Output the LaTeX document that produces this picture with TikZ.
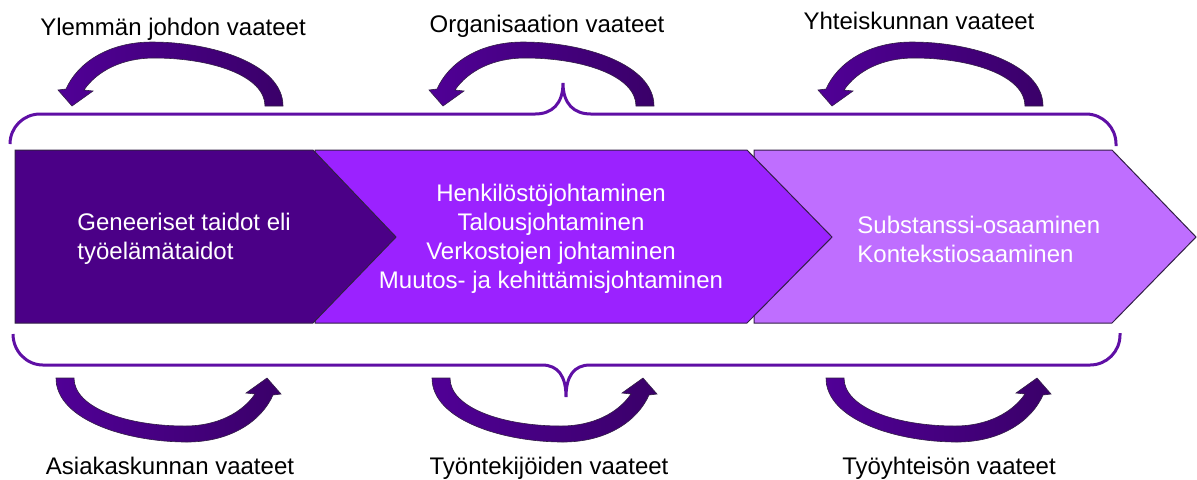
\documentclass[tikz,border=0pt]{standalone}
\usepackage{fontspec}
\setmainfont{Liberation Sans}
\definecolor{chevA}{RGB}{75,0,135}
\definecolor{chevB}{RGB}{155,34,255}
\definecolor{chevC}{RGB}{191,110,255}
\definecolor{bracecol}{RGB}{95,15,165}
\definecolor{arrowdark}{RGB}{58,0,105}
\definecolor{arrowlight}{RGB}{80,0,150}
\definecolor{edgecol}{RGB}{50,30,70}
\tikzset{
  chevron/.style={draw=edgecol, line width=0.5pt, line join=miter},
  bracestyle/.style={draw=bracecol, line width=1.5pt},
  lbl/.style={font=\fontsize{12pt}{14.5pt}\selectfont, inner sep=0pt, anchor=base},
  intext/.style={text=white, font=\fontsize{12pt}{14.5pt}\selectfont, inner sep=0pt},
  vaade/.pic={
    \shadedraw[left color=arrowlight, right color=arrowdark, draw=edgecol, line width=0.3pt]
      (211,0) .. controls (211,-42) and (140,-64) .. (80,-64)
      .. controls (35,-64) and (5,-42) .. (-6,-17)
      -- (-14,-16) -- (0,0) -- (21,-15) -- (12,-16)
      .. controls (25,-35) and (50,-48) .. (82,-48)
      .. controls (140,-48) and (193,-30) .. (193,0) -- cycle;
  }
}
\begin{document}
\begin{tikzpicture}[x=0.5pt,y=-0.5pt]
\useasboundingbox (0,0) rectangle (1197,479);
% chevrons
\path[chevron, fill=chevC] (754,150) -- (1112,150) -- (1196,237) -- (1112,323) -- (754,323) -- cycle;
\path[chevron, fill=chevB] (315,150) -- (747,150) -- (832,237) -- (747,323) -- (315,323) -- cycle;
\path[chevron, fill=chevA] (15,150) -- (313,150) -- (396,237) -- (313,323) -- (15,323) -- cycle;
% chevron texts
\node[intext, anchor=west, align=left] (tA) at (77,239) {Geneeriset taidot eli\\työelämätaidot};
\node[intext, align=center] (tB) at (551,239) {Henkilöstöjohtaminen\\Talousjohtaminen\\Verkostojen johtaminen\\Muutos- ja kehittämisjohtaminen};
\node[intext, anchor=west, align=left] (tC) at (857,239) {Substanssi-osaaminen\\Kontekstiosaaminen};
% braces
\draw[bracestyle] (10,144) .. controls (10,127.4) and (23.4,114) .. (40,114)
  -- (535,114) .. controls (552,114) and (563,104) .. (563,83)
  .. controls (563,104) and (574,114) .. (591,114)
  -- (1086,114) .. controls (1102.6,114) and (1116,127.4) .. (1116,144) -- (1116,146);
\draw[bracestyle] (13,334) .. controls (13,351) and (26.4,365) .. (43,365)
  -- (542,365) .. controls (558,365) and (566,376) .. (566,397)
  .. controls (566,376) and (574,365) .. (590,365)
  -- (1090,365) .. controls (1106.6,365) and (1120,351.6) .. (1120,335) -- (1120,333);
% curved arrows
\pic at (72,106) {vaade};
\pic at (443,106) {vaade};
\pic at (832,106) {vaade};
\pic[rotate=180] at (267,378) {vaade};
\pic[rotate=180] at (643,378) {vaade};
\pic[rotate=180] at (1037,378) {vaade};
% labels
\node[lbl] (l1) at (173,35) {Ylemmän johdon vaateet};
\node[lbl] (l2) at (547,32) {Organisaation vaateet};
\node[lbl] (l3) at (919,29) {Yhteiskunnan vaateet};
\node[lbl] (l4) at (170,474) {Asiakaskunnan vaateet};
\node[lbl] (l5) at (549,474) {Työntekijöiden vaateet};
\node[lbl] (l6) at (949,474) {Työyhteisön vaateet};
\end{tikzpicture}
\end{document}
